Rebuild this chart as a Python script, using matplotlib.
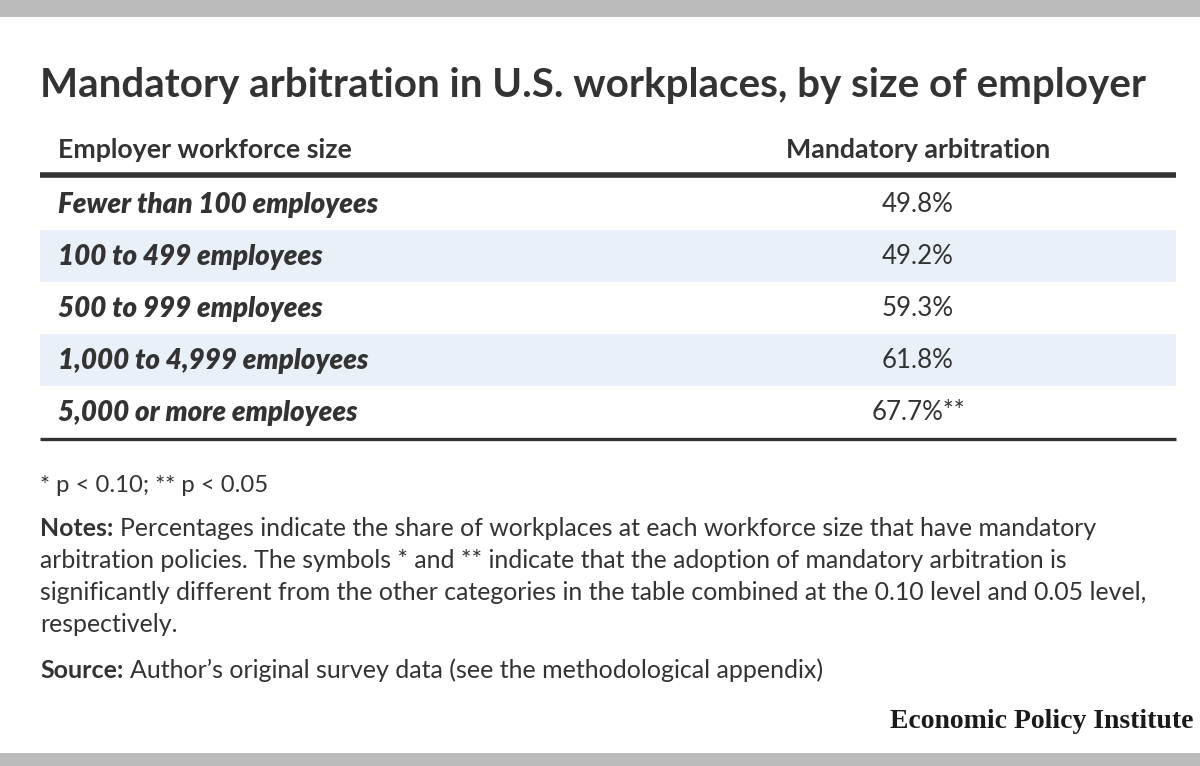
import matplotlib
matplotlib.use('Agg')
import matplotlib.pyplot as plt

# table data
sizes = ["Fewer than 100 employees", "100 to 499 employees", "500 to 999 employees",
         "1,000 to 4,999 employees", "5,000 or more employees"]
shares = [49.8, 49.2, 59.3, 61.8, 67.7]
stars = ["", "", "", "", "**"]
col_headers = ["Employer workforce size", "Mandatory arbitration"]

title = "Mandatory arbitration in U.S. workplaces, by size of employer"
sig_note = "* p < 0.10; ** p < 0.05"
notes = ["Percentages indicate the share of workplaces at each workforce size that have mandatory",
         "arbitration policies. The symbols * and ** indicate that the adoption of mandatory arbitration is",
         "significantly different from the other categories in the table combined at the 0.10 level and 0.05 level,",
         "respectively."]
source = "Author\u2019s original survey data (see the methodological appendix)"

dark = "#333333"
stripe = "#e9f0f8"
grey = "#bbbbbb"
font = "Lato"

W, H = 1200, 766
fig = plt.figure(figsize=(W / 100, H / 100), dpi=100)
ax = fig.add_axes([0, 0, 1, 1])
ax.set_xlim(0, W)
ax.set_ylim(H, 0)
ax.axis("off")
renderer = fig.canvas.get_renderer()


def label_then_text(y, label, body, size, gap=7):
    # bold label followed by regular text on the same line
    t = ax.text(40, y, label, fontsize=size, fontweight="bold", color=dark, family=font, va="center")
    bb = t.get_window_extent(renderer=renderer)
    ax.text(bb.x1 + gap, y, body, fontsize=size, color=dark, family=font, va="center")


# frame bars
ax.axhspan(0, 17, color=grey, lw=0)
ax.axhspan(753, H, color=grey, lw=0)

ax.text(40, 86, title, fontsize=29.1, fontweight="bold", color=dark, family=font, va="center")

ax.text(58, 150, col_headers[0], fontsize=19.3, fontweight="bold", color=dark, family=font, va="center")
ax.text(918, 150, col_headers[1], fontsize=19.3, fontweight="bold", color=dark, family=font,
        va="center", ha="center")

row_top = 178
row_h = 52
for i, (s, v, st) in enumerate(zip(sizes, shares, stars)):
    y0 = row_top + i * row_h
    if i % 2 == 1:
        ax.fill_between([40, 1176], y0, y0 + row_h, color=stripe, lw=0)
    yc = y0 + row_h / 2 + 1
    ax.text(58, yc, s, fontsize=20, fontweight="heavy", style="italic", color=dark,
            family=font, va="center")
    ax.text(918, yc, f"{v:.1f}%{st}", fontsize=18.6, color=dark, family=font,
            va="center", ha="center")

ax.plot([40, 1176], [175, 175], color=dark, lw=4, solid_capstyle="butt")
bottom = row_top + len(sizes) * row_h
ax.plot([40, 1176], [bottom + 1, bottom + 1], color=dark, lw=2.4, solid_capstyle="butt")

ax.text(40, 485, sig_note, fontsize=17.2, color=dark, family=font, va="center")

y = 529
for j, line in enumerate(notes):
    if j == 0:
        label_then_text(y, "Notes:", line, 17.9)
    else:
        ax.text(40, y, line, fontsize=17.9, color=dark, family=font, va="center")
    y += 32

label_then_text(670, "Source:", source, 18.0)

ax.text(1193, 721, "Economic Policy Institute", fontsize=20, fontweight="bold",
        color="#1a1a1a", family="Liberation Serif", va="center", ha="right")

fig.savefig("out.png", dpi=100)
